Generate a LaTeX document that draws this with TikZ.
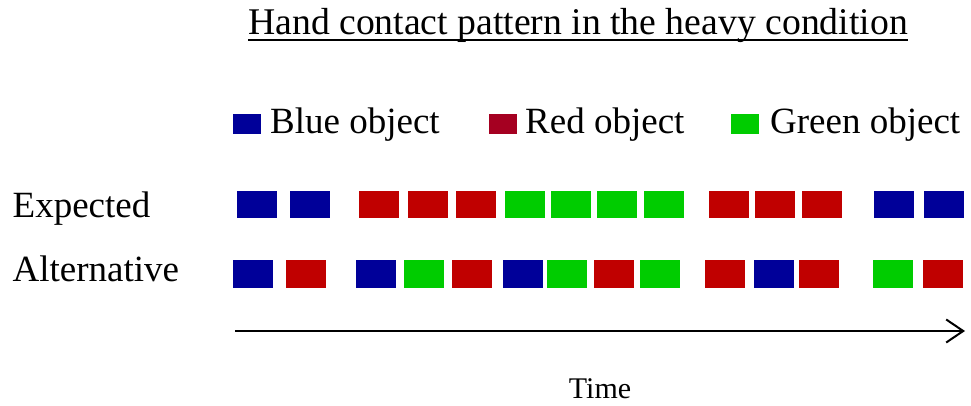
\documentclass[tikz,border=0pt]{standalone}
\usepackage{fontspec}
\setmainfont{Liberation Serif}
\usetikzlibrary{arrows.meta}
\definecolor{cblue}{HTML}{000099}
\definecolor{cred}{HTML}{C00000}
\definecolor{cgreen}{HTML}{00CC00}
\definecolor{clegred}{HTML}{A50021}
\tikzset{
  lbl/.style={inner sep=0pt, anchor=base west, font=\fontsize{37}{44}\selectfont},
  ebox/.style={draw=none, inner sep=0pt, minimum width=40pt, minimum height=27pt, anchor=north west},
  abox/.style={draw=none, inner sep=0pt, minimum width=40pt, minimum height=28pt, anchor=north west},
  legbox/.style={draw=none, inner sep=0pt, minimum width=28pt, minimum height=20pt, anchor=north west},
}
\begin{document}
\begin{tikzpicture}[x=1pt,y=-1pt]
\useasboundingbox (0,0) rectangle (971,406);
% title
\node[inner sep=0pt, anchor=base, font=\fontsize{37.7}{45}\selectfont] (title) at (578,35) {Hand contact pattern in the heavy condition};
\draw[line width=1.6pt] (title.west |- 0,40) -- (title.east |- 0,40);
% legend
\node[legbox, fill=cblue] (lb) at (233,114) {};
\node[lbl] (lbt) at (270,134) {Blue object};
\node[legbox, fill=clegred] (lr) at (489,114) {};
\node[lbl] (lrt) at (525,134) {Red object};
\node[legbox, fill=cgreen] (lg) at (731,114) {};
\node[lbl] (lgt) at (770,134) {Green object};
% row labels
\node[lbl] (exp) at (12.5,217) {Expected};
\node[lbl] (alt) at (12.5,281) {Alternative};
% expected row
\foreach \x/\c [count=\i] in {237/cblue,290/cblue,359/cred,408/cred,456/cred,505/cgreen,551/cgreen,597/cgreen,644/cgreen,709/cred,755/cred,802/cred,874/cblue,924/cblue}
  \node[ebox, fill=\c] (e\i) at (\x,191) {};
% alternative row
\foreach \x/\c [count=\i] in {233/cblue,286/cred,356/cblue,404/cgreen,452/cred,503/cblue,547/cgreen,594/cred,640/cgreen,705/cred,754/cblue,799/cred,873/cgreen,923/cred}
  \node[abox, fill=\c] (a\i) at (\x,260) {};
% time arrow
\coordinate (ts) at (235,331);
\coordinate (te) at (965,331);
\draw[line width=2pt, -{Straight Barb[length=17pt,width=23pt,line width=2pt]}] (ts) -- (te);
\node[inner sep=0pt, anchor=base, font=\fontsize{30}{36}\selectfont] (time) at (600,398) {Time};
\end{tikzpicture}
\end{document}
